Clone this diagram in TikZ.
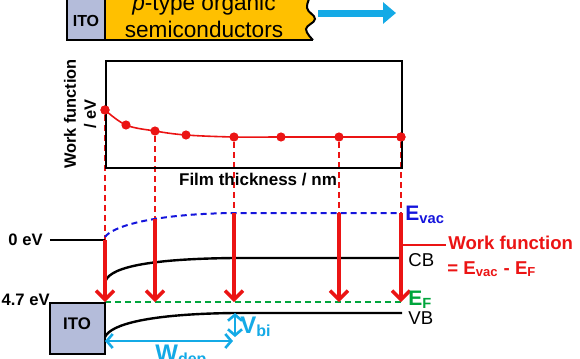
\documentclass[tikz,border=0pt]{standalone}
\usepackage{fontspec}
\setmainfont{Liberation Sans}
\usetikzlibrary{arrows.meta, positioning}
\definecolor{itoblue}{RGB}{180,188,218}
\definecolor{orgorange}{RGB}{255,192,0}
\definecolor{depcyan}{RGB}{20,170,230}
\definecolor{vacblue}{RGB}{20,20,220}
\definecolor{fermigreen}{RGB}{0,165,60}
\definecolor{wfred}{RGB}{235,20,20}
\tikzset{
x=0.5pt, y=-0.5pt, % one unit is one pixel of the sketch
frame/.style={draw, line width=1pt}, % outlines of boxes
level/.style={line width=1.2pt}, % band edges
guide/.style={wfred, line width=0.6pt, dash pattern=on 3pt off 2pt}, % projection lines
wfarrow/.style={wfred, line width=1.7pt, -{Straight Barb[length=4.5pt,width=9pt]}},
span/.style={depcyan, line width=1.3pt, {Straight Barb[length=3pt,width=7pt]}-{Straight Barb[length=3pt,width=7pt]}},
dot/.style={circle, fill=wfred, inner sep=0pt, minimum size=4.6pt},
lbl/.style={font=\fontsize{8.3}{10}\selectfont\bfseries, inner sep=0pt},
}

\begin{document}
\begin{tikzpicture}
                \useasboundingbox (0,0) rectangle (580,359);
                % layer stack on top
                \fill[itoblue] (67,-5) rectangle (105,40);
                \fill[orgorange] (105,-5) -- (311,-5) -- plot[smooth, tension=0.7] coordinates {(311,-5) (307,8) (315,19) (306,29) (313,40)} -- (105,40) -- cycle;
                \draw[line width=1pt] (67,-5) -- (67,40) -- (313,40);
                \draw[line width=1pt] (105,-5) -- (105,40);
                \draw[line width=1pt] plot[smooth, tension=0.7] coordinates {(311,-5) (307,8) (315,19) (306,29) (313,40)};
                \node[lbl, font=\fontsize{8}{10}\selectfont\bfseries] (itotop) at (86,21) {ITO};
                \node[anchor=base, inner sep=0pt, font=\fontsize{11.3}{13.5}\selectfont] (org1) at (204,10) {\textit{p}-type organic};
                \node[anchor=base, inner sep=0pt, font=\fontsize{11.3}{13.5}\selectfont] (org2) at (204,37) {semiconductors};
                \coordinate (flowA) at (318,13);
                \coordinate (flowB) at (396,13);
                \draw[depcyan, line width=3.5pt, -{Triangle[length=6.5pt,width=10.5pt]}] (flowA) -- (flowB);

                % work function versus thickness
                \foreach \n/\x/\y in {a/105/240, b/155/219, c/234/213, d/339/213, e/401/213} {
                    \coordinate (top\n) at (\x,\y);
                    \coordinate (ef\n) at (\x,302);
                }
                \draw[wfred, line width=0.8pt] plot[smooth, tension=0.6] coordinates {(105,110) (126,125) (155,131) (186,135) (234,137) (281,137) (339,137) (401,137)};
                \foreach \i/\x/\y in {1/105/110, 2/126/125, 3/155/131, 4/186/135, 5/234/137, 6/281/137, 7/339/137, 8/401/137}
                    \node[dot] (p\i) at (\x,\y) {};
                \draw[guide]
                    (p1) -- (topa)
                    (p3) -- (topb)
                    (p5) -- (topc)
                    (p7) -- (topd)
                    (p8) -- (tope);
                \node[frame, inner sep=0pt, minimum width=148pt, minimum height=53.5pt, anchor=north west] (plot) at (105,60) {};
                \node[dot] at (p1) {};
                \node[dot] at (p8) {};
                \node[lbl, rotate=90, align=center, font=\fontsize{8.2}{10}\selectfont\bfseries] (wfaxis) at (80,114) {Work function\\/ eV};
                \node[lbl, font=\fontsize{8.5}{10}\selectfont\bfseries] (thick) at (258,180) {Film thickness / nm};

                % band diagram
                \node[lbl, anchor=east] (zero) at (43,240) {0 eV};
                \coordinate (vac0) at (105,240);
                \draw[line width=0.8pt] ([xshift=3.5pt]zero.east) -- (vac0);
                \draw[vacblue, line width=1pt, dash pattern=on 3pt off 2pt] (105,237) .. controls (112,227) and (150,214) .. (topc) -- (tope);
                \draw[level] (105,283) .. controls (107,269) and (140,259) .. (234,258) -- (402,258);
                \draw[level] (105,337) .. controls (111,324) and (150,314) .. (234,313) -- (402,313);
                \draw[fermigreen, line width=1pt, dash pattern=on 3pt off 2pt] (efa) -- (efe);
                \foreach \n in {a,b,c,d,e}
                    \draw[wfarrow] (top\n) -- (ef\n);
                \node[lbl, anchor=east] (fourseven) at (50,300) {4.7 eV};
                \draw[frame, fill=itoblue] (50,303) rectangle (105,354);
                \node[lbl, font=\fontsize{8.4}{10}\selectfont\bfseries] (itobot) at (77,324) {ITO};

                \node[lbl, anchor=base west, vacblue, font=\fontsize{10.5}{12}\selectfont\bfseries] (evac) at (405,220) {E\textsubscript{vac}};
                \node[anchor=west, inner sep=0pt, font=\fontsize{9.3}{11}\selectfont] (cb) at (408,260) {CB};
                \node[lbl, anchor=base west, fermigreen, font=\fontsize{10.5}{12}\selectfont\bfseries] (ef) at (408,305) {E\textsubscript{F}};
                \node[anchor=west, inner sep=0pt, font=\fontsize{9.3}{11}\selectfont] (vb) at (408,318) {VB};

                \coordinate (wfpin) at (401,245);
                \coordinate (wfend) at (446,245);
                \draw[wfred, line width=0.8pt] (wfpin) -- (wfend);
                \node[lbl, anchor=base west, wfred, font=\fontsize{9.3}{11}\selectfont\bfseries] (wftext) at (448,249) {Work function};
                \node[lbl, anchor=base west, wfred, font=\fontsize{9.3}{11}\selectfont\bfseries] (wfeq) at (447,274) {= E\textsubscript{vac} - E\textsubscript{F}};

                \coordinate (wdl) at (105,341);
                \coordinate (wdr) at (233,341);
                \draw[span] (wdl) -- (wdr);
                \coordinate (vbt) at (235,313);
                \coordinate (vbb) at (235,337);
                \draw[span] (vbt) -- (vbb);
                \node[lbl, anchor=base west, depcyan, font=\fontsize{12}{14}\selectfont\bfseries] (vbi) at (240,333) {V\textsubscript{bi}};
                \node[lbl, anchor=base west, depcyan, font=\fontsize{12}{14}\selectfont\bfseries] (wdep) at (155,361) {W\textsubscript{dep}};
                \end{tikzpicture}
\end{document}
